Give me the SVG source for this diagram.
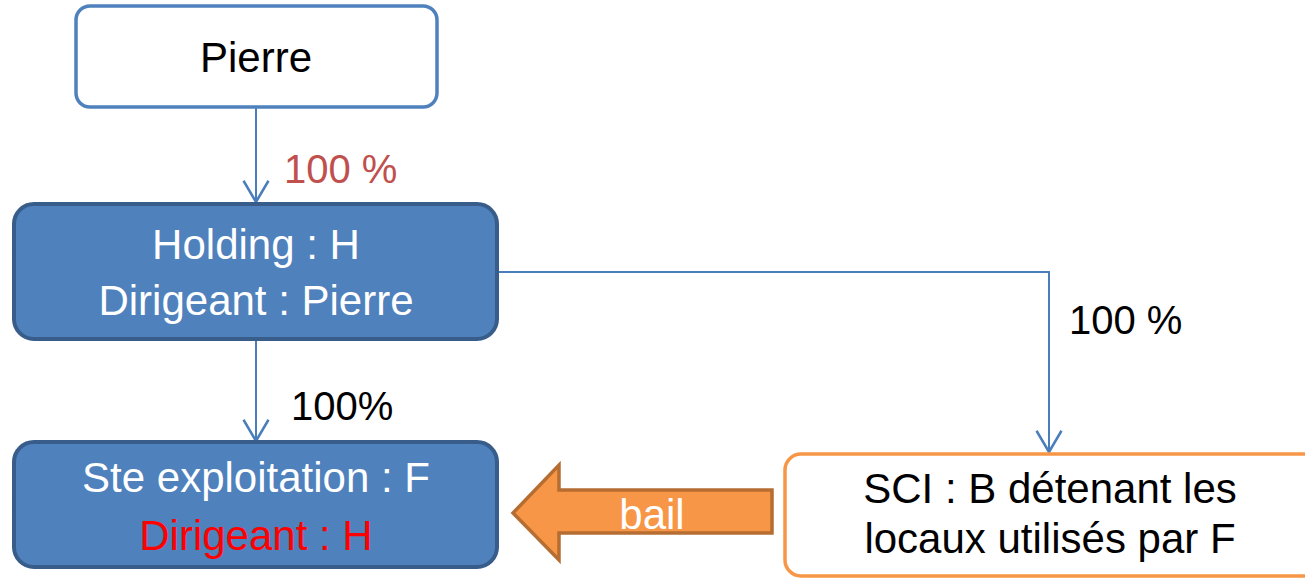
<svg xmlns="http://www.w3.org/2000/svg" width="1305" height="579" viewBox="0 0 1305 579">
<defs>
<marker id="arr" markerUnits="userSpaceOnUse" markerWidth="30" markerHeight="30" refX="0" refY="0" orient="auto" viewBox="-20 -12 22 24" overflow="visible">
<path d="M -17 -10 L 0 0 L -17 10" fill="none" stroke="#4A7EBB" stroke-width="2"/>
</marker>
</defs>
<style>
text{font-family:"Liberation Sans",Arial,sans-serif;font-size:42px}
.c{text-anchor:middle}
.w{fill:#FFFFFF}
.k{fill:#000000}
.blue{fill:#4F81BD;stroke:#385D8A;stroke-width:4}
.white{fill:#FFFFFF;stroke:#4F81BD;stroke-width:3.5}
.conn{fill:none;stroke:#4A7EBB;stroke-width:2;marker-end:url(#arr)}
.lbl{font-size:40px}
</style>
<rect width="1305" height="579" fill="#FFFFFF"/>
<g id="connectors">
<path class="conn" d="M256,108 V202"/>
<path class="conn" d="M256,340 V441"/>
<path class="conn" d="M498,272 H1049 V452"/>
<text class="lbl" x="284" y="183" fill="#C0504D">100 %</text>
<text class="lbl k" x="291" y="420">100%</text>
<text class="lbl k" x="1069" y="334">100 %</text>
</g>
<g id="pierre">
<rect class="white" x="76" y="6" width="361" height="101" rx="14"/>
<text class="c k" x="256" y="72">Pierre</text>
</g>
<g id="holding">
<rect class="blue" x="14" y="204" width="483" height="135" rx="20"/>
<text class="c w" x="256" y="259">Holding : H</text>
<text class="c w" x="256" y="315">Dirigeant : Pierre</text>
</g>
<g id="exploitation">
<rect class="blue" x="14" y="442" width="483" height="125" rx="20"/>
<text class="c w" x="256" y="492">Ste exploitation : F</text>
<text class="c" x="256" y="550" fill="#FF0000">Dirigeant : H</text>
</g>
<g id="sci">
<rect x="785" y="454" width="540" height="122" rx="16" fill="#FFFFFF" stroke="#F79646" stroke-width="3.5"/>
<text class="c k" x="1050" y="503">SCI : B détenant les</text>
<text class="c k" x="1050" y="553">locaux utilisés par F</text>
</g>
<g id="bail">
<path d="M513,513 L559,465 L559,490 L772,490 L772,533 L559,533 L559,560 Z" fill="#F79646" stroke="#B66D31" stroke-width="3.5" stroke-linejoin="miter"/>
<text class="c w" x="652" y="529">bail</text>
</g>
</svg>
